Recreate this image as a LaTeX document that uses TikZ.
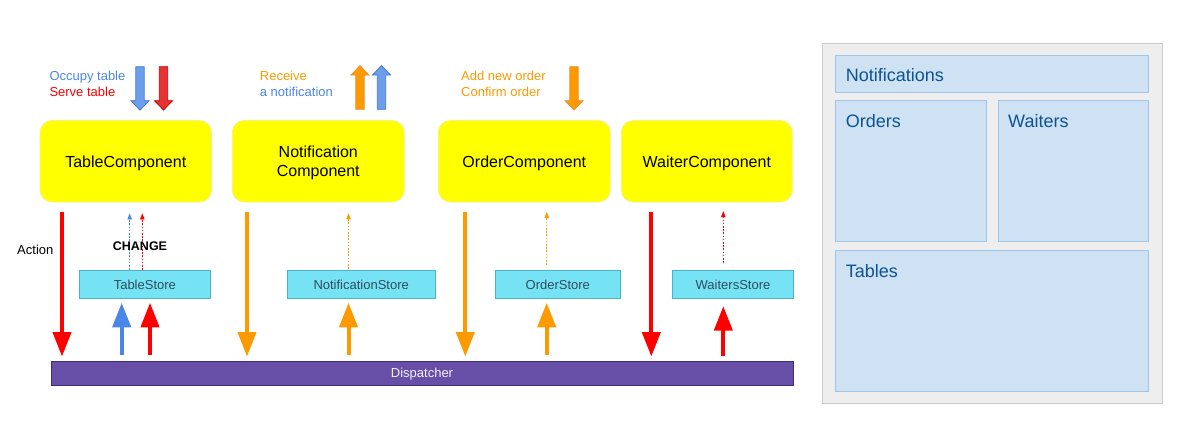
\documentclass[tikz,border=0pt]{standalone}
\usepackage{fontspec}
\setmainfont{Liberation Sans}
\usetikzlibrary{arrows.meta}
\definecolor{cred}{HTML}{FF0000}
\definecolor{corange}{HTML}{FF9900}
\definecolor{cblue}{HTML}{4A86E8}
\definecolor{tblue}{HTML}{6D9EEB}
\definecolor{tbluedark}{HTML}{3C78D8}
\definecolor{tred}{HTML}{E53333}
\definecolor{treddark}{HTML}{CC0000}
\definecolor{torangedark}{HTML}{E69138}
\definecolor{compfill}{HTML}{FFFF00}
\definecolor{compdraw}{HTML}{F7F08A}
\definecolor{storefill}{HTML}{76E3F4}
\definecolor{storedraw}{HTML}{48B4C6}
\definecolor{storetext}{HTML}{2E4D5E}
\definecolor{dispfill}{HTML}{674EA7}
\definecolor{dispdraw}{HTML}{3F2C82}
\definecolor{panelfill}{HTML}{EEEEEE}
\definecolor{paneldraw}{HTML}{CCCCCC}
\definecolor{boxfill}{HTML}{CFE2F3}
\definecolor{boxdraw}{HTML}{9FC5E8}
\definecolor{boxtext}{HTML}{0B5394}
\newcommand{\blkdown}[5]{\filldraw[fill=#4,draw=#5,line width=0.8pt] (#1-4.2,#2) -- (#1+4.2,#2) -- (#1+4.2,#3-9.3) -- (#1+9,#3-9.3) -- (#1,#3) -- (#1-9,#3-9.3) -- (#1-4.2,#3-9.3) -- cycle;}
\newcommand{\blkup}[5]{\filldraw[fill=#4,draw=#5,line width=0.8pt] (#1-4.2,#2) -- (#1+4.2,#2) -- (#1+4.2,#3+9.3) -- (#1+9,#3+9.3) -- (#1,#3) -- (#1-9,#3+9.3) -- (#1-4.2,#3+9.3) -- cycle;}
\begin{document}
\begin{tikzpicture}[x=1pt,y=-1pt,
  comp/.style={fill=compfill,draw=compdraw,line width=0.8pt,rounded corners=12pt,minimum height=81.5pt,inner sep=0pt,text depth=0pt,align=center,font=\fontsize{16}{19}\selectfont},
  store/.style={fill=storefill,draw=storedraw,line width=0.9pt,minimum height=28pt,inner sep=0pt,text depth=0pt,text=storetext,font=\fontsize{13}{15}\selectfont},
  bigarr/.style={line width=4pt,-{Triangle[width=18pt,length=24.5pt]}},
  dotarr/.style={line width=0.7pt,dash pattern=on 1.6pt off 1.6pt,-{Triangle[width=4.5pt,length=6pt]}},
  lbl/.style={inner sep=0pt,anchor=base west,font=\fontsize{13}{16}\selectfont},
  pbox/.style={fill=boxfill,draw=boxdraw,line width=0.8pt},
  ptext/.style={inner sep=0pt,anchor=base west,text=boxtext,font=\fontsize{18}{21}\selectfont}]
\useasboundingbox (0,0) rectangle (1180,437);

% components
\node[comp,minimum width=171.5pt] (tc) at (125.75,161.25) {TableComponent};
\node[comp,minimum width=172pt] (nc) at (318.3,161.25) {Notification\\Component};
\node[comp,minimum width=172pt] (oc) at (524.3,161.25) {OrderComponent};
\node[comp,minimum width=171pt] (wc) at (706.8,161.25) {WaiterComponent};

% stores
\node[store,minimum width=131.7pt] (ts) at (144.85,284.3) {TableStore};
\node[store,minimum width=147.7pt] (ns) at (361.2,284.3) {NotificationStore};
\node[store,minimum width=125pt] (os) at (557.8,284.3) {OrderStore};
\node[store,minimum width=121.4pt] (ws) at (733,284.3) {WaitersStore};

% dispatcher
\node[fill=dispfill,draw=dispdraw,line width=0.9pt,minimum width=742pt,minimum height=24pt,inner sep=0pt,text depth=0pt,text=white!92!dispfill,font=\fontsize{13}{15}\selectfont] (disp) at (422,373) {Dispatcher};

% column coordinates
\coordinate (c1) at (62,0);
\coordinate (c2) at (121.7,0);
\coordinate (c3) at (150,0);
\coordinate (c4) at (129.7,0);
\coordinate (c5) at (142.3,0);
\coordinate (c6) at (247,0);
\coordinate (c7) at (348.5,0);
\coordinate (c8) at (465.3,0);
\coordinate (c9) at (546.7,0);
\coordinate (c10) at (651.3,0);
\coordinate (c11) at (723.3,0);

% actions down to dispatcher
\draw[bigarr,cred,shorten <=10pt,shorten >=4pt] (c1 |- tc.south) -- (c1 |- disp.north);
\draw[bigarr,corange,shorten <=10pt,shorten >=4pt] (c6 |- nc.south) -- (c6 |- disp.north);
\draw[bigarr,corange,shorten <=10pt,shorten >=4pt] (c8 |- oc.south) -- (c8 |- disp.north);
\draw[bigarr,cred,shorten <=10pt,shorten >=4pt] (c10 |- wc.south) -- (c10 |- disp.north);

% dispatcher up to stores
\draw[bigarr,cblue,shorten <=6pt,shorten >=4pt] (c2 |- disp.north) -- (c2 |- ts.south);
\draw[bigarr,cred,shorten <=6pt,shorten >=4pt] (c3 |- disp.north) -- (c3 |- ts.south);
\draw[bigarr,corange,shorten <=6pt,shorten >=4pt] (c7 |- disp.north) -- (c7 |- ns.south);
\draw[bigarr,corange,shorten <=6pt,shorten >=4pt] (c9 |- disp.north) -- (c9 |- os.south);
\draw[bigarr,cred,shorten <=4.5pt,shorten >=7.4pt] (c11 |- disp.north) -- (c11 |- ws.south);

% change notifications (dotted)
\draw[dotarr,cblue,shorten >=11pt] (c4 |- ts.north) -- (c4 |- tc.south);
\draw[dotarr,cred,shorten >=11pt] (c5 |- ts.north) -- (c5 |- tc.south);
\draw[dotarr,corange,shorten <=1pt,shorten >=11pt] (c7 |- ns.north) -- (c7 |- nc.south);
\draw[dotarr,corange,shorten <=5pt,shorten >=9.5pt] (c9 |- os.north) -- (c9 |- oc.south);
\draw[dotarr,cred,shorten <=7pt,shorten >=8.7pt] (c11 |- ws.north) -- (c11 |- wc.south);

% labels
\node[inner sep=0pt,anchor=base,font=\fontsize{13}{16}\selectfont] (action) at (35.3,254) {Action};
\node[inner sep=0pt,anchor=base,font=\bfseries\fontsize{12.5}{15}\selectfont] (change) at (140,250) {CHANGE};

\node[lbl,text=cblue] (occ) at (49.3,80.7) {Occupy table};
\node[lbl,text=cred] (srv) at (49.3,96.7) {Serve table};
\node[lbl,text=corange] (rcv) at (259.7,80.7) {Receive};
\node[lbl,text=cblue] (anot) at (259.7,96.7) {a notification};
\node[lbl,text=corange] (add) at (461,80.7) {Add new order};
\node[lbl,text=corange] (cnf) at (461,96.7) {Confirm order};

% top block arrows
\blkdown{140}{66.7}{110}{tblue}{tbluedark}
\blkdown{163.5}{66.7}{110}{tred}{treddark}
\blkup{360}{109.3}{65.7}{corange}{torangedark}
\blkup{381.5}{109.3}{65.7}{tblue}{tbluedark}
\blkdown{574}{66.7}{110}{corange}{torangedark}

% right panel
\filldraw[fill=panelfill,draw=paneldraw,line width=0.9pt] (822.3,43.3) rectangle (1162.3,403.3);
\filldraw[pbox] (835.3,55.3) rectangle (1148.7,92.3);
\filldraw[pbox] (835.3,100.3) rectangle (986.3,241.3);
\filldraw[pbox] (998.3,100.3) rectangle (1148.7,241.3);
\filldraw[pbox] (835.3,250.3) rectangle (1148.7,391);
\node[ptext] (pnot) at (845.7,81) {Notifications};
\node[ptext] (pord) at (845.7,127.7) {Orders};
\node[ptext] (pwai) at (1008,127.7) {Waiters};
\node[ptext] (ptab) at (845.7,277.7) {Tables};
\end{tikzpicture}
\end{document}
